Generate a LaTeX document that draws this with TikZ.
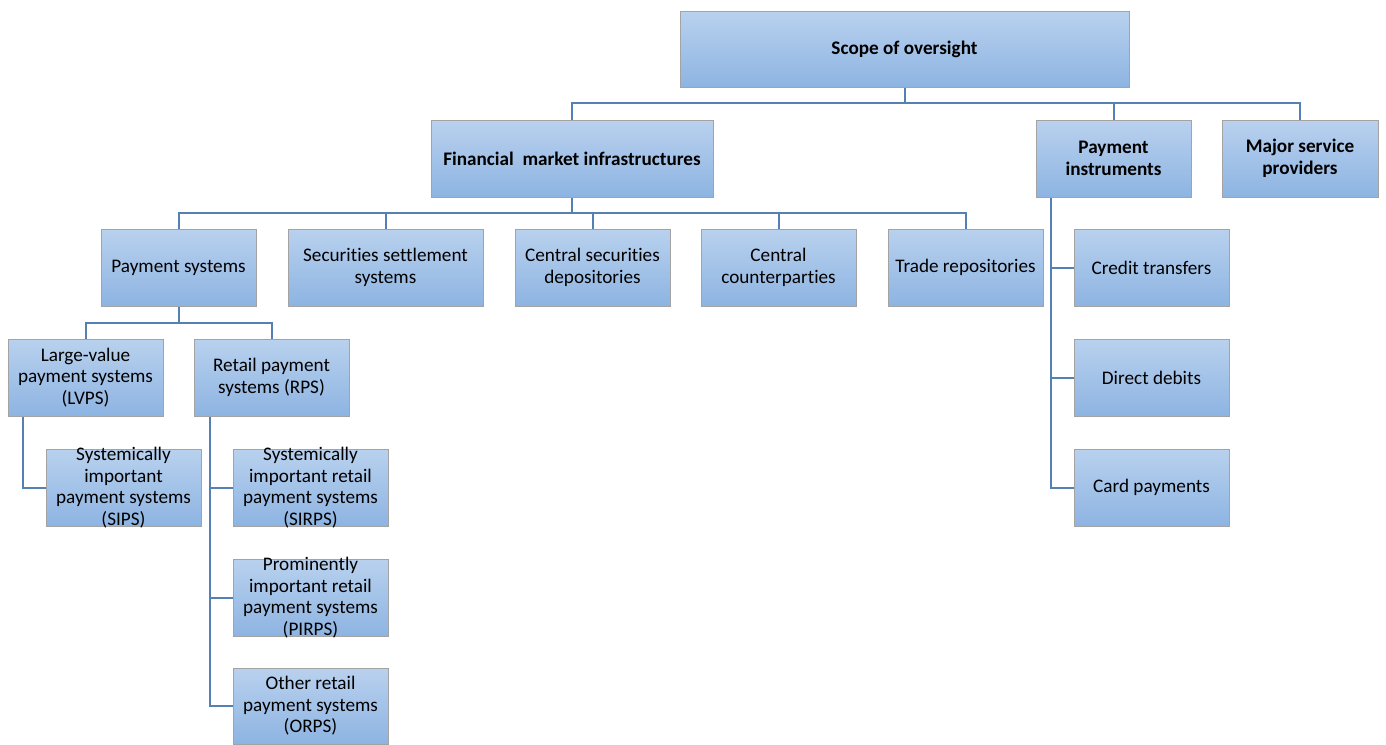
\documentclass[tikz,border=0pt]{standalone}
\usepackage{fontspec}
\setmainfont{Carlito}[Ligatures=NoCommon]
\definecolor{boxtop}{HTML}{B9D1EE}
\definecolor{boxbot}{HTML}{8DB4E2}
\definecolor{boxline}{HTML}{A3A3A3}
\definecolor{conn}{HTML}{5580B4}
\tikzset{
  box/.style={draw=boxline, line width=1pt, top color=boxtop, bottom color=boxbot, shading angle=0, inner sep=0pt},
  lbl/.style={align=center, inner sep=0pt, font=\fontsize{19.2}{21.5}\selectfont, text=black},
  blbl/.style={lbl, font=\fontsize{19.2}{21.5}\selectfont\bfseries},
  conn/.style={draw=conn, line width=2pt}
}
\newcommand\mybox[6]{%
  \node[box, minimum width=#3pt, minimum height=#4pt] (#1) at #2 {};
  \node[#6] (#1-t) at (#1.center) {#5};}
\begin{document}
\begin{tikzpicture}[x=1pt,y=-1pt]
\useasboundingbox (0,0) rectangle (1386,744);
% boxes
\mybox{scope}{(904.5,49)}{449}{76}{Scope of oversight}{blbl}
\mybox{fmi}{(572,158.5)}{282}{77}{Financial\ \ market infrastructures}{blbl}
\mybox{pi}{(1113.5,158.5)}{155}{77}{Payment\\instruments}{blbl}
\mybox{msp}{(1300,158.5)}{156}{77}{Major service\\providers}{blbl}
\mybox{ps}{(178.5,267.5)}{155}{77}{Payment systems}{lbl}
\mybox{sss}{(385.5,267.5)}{195}{77}{Securities settlement\\systems}{lbl}
\mybox{csd}{(592.5,267.5)}{155}{77}{Central securities\\depositories}{lbl}
\mybox{ccp}{(778.5,267.5)}{155}{77}{Central\\counterparties}{lbl}
\mybox{tr}{(965.5,267.5)}{155}{77}{Trade repositories}{lbl}
\mybox{ct}{(1151.5,267.5)}{155}{77}{Credit transfers}{lbl}
\mybox{dd}{(1151.5,377.5)}{155}{77}{Direct debits}{lbl}
\mybox{cp}{(1151.5,487.5)}{155}{77}{Card payments}{lbl}
\mybox{lvps}{(85.5,377.5)}{155}{77}{Large-value\\payment systems\\(LVPS)}{lbl}
\mybox{rps}{(271.5,377.5)}{155}{77}{Retail payment\\systems (RPS)}{lbl}
\mybox{sips}{(123.5,487.5)}{155}{77}{Systemically\\important\\payment systems\\(SIPS)}{lbl}
\mybox{sirps}{(310.5,487.5)}{155}{77}{Systemically\\important retail\\payment systems\\(SIRPS)}{lbl}
\mybox{pirps}{(310.5,597.5)}{155}{77}{Prominently\\important retail\\payment systems\\(PIRPS)}{lbl}
\mybox{orps}{(310.5,706)}{155}{76}{Other retail\\payment systems\\(ORPS)}{lbl}
% connectors
\draw[conn] (scope.south) -- ++(0,16);
\draw[conn] (fmi.north) -- ++(0,-17) -| (msp.north);
\draw[conn] (pi.north) -- ++(0,-17);
\draw[conn] (fmi.south) -- ++(0,16);
\draw[conn] (ps.north) -- ++(0,-16) -| (tr.north);
\draw[conn] (sss.north) -- ++(0,-16);
\draw[conn] (csd.north) -- ++(0,-16);
\draw[conn] (ccp.north) -- ++(0,-16);
\draw[conn] (ps.south) -- ++(0,17);
\draw[conn] (lvps.north) -- ++(0,-16) -| (rps.north);
\coordinate (pit) at ([xshift=-62.5pt]pi.south);
\draw[conn] (pit) |- (cp.west);
\draw[conn] (pit |- ct.west) -- (ct.west);
\draw[conn] (pit |- dd.west) -- (dd.west);
\coordinate (lvt) at ([xshift=-62.5pt]lvps.south);
\draw[conn] (lvt) |- (sips.west);
\coordinate (rpt) at ([xshift=-61.5pt]rps.south);
\draw[conn] (rpt) |- (orps.west);
\draw[conn] (rpt |- sirps.west) -- (sirps.west);
\draw[conn] (rpt |- pirps.west) -- (pirps.west);
\end{tikzpicture}
\end{document}
